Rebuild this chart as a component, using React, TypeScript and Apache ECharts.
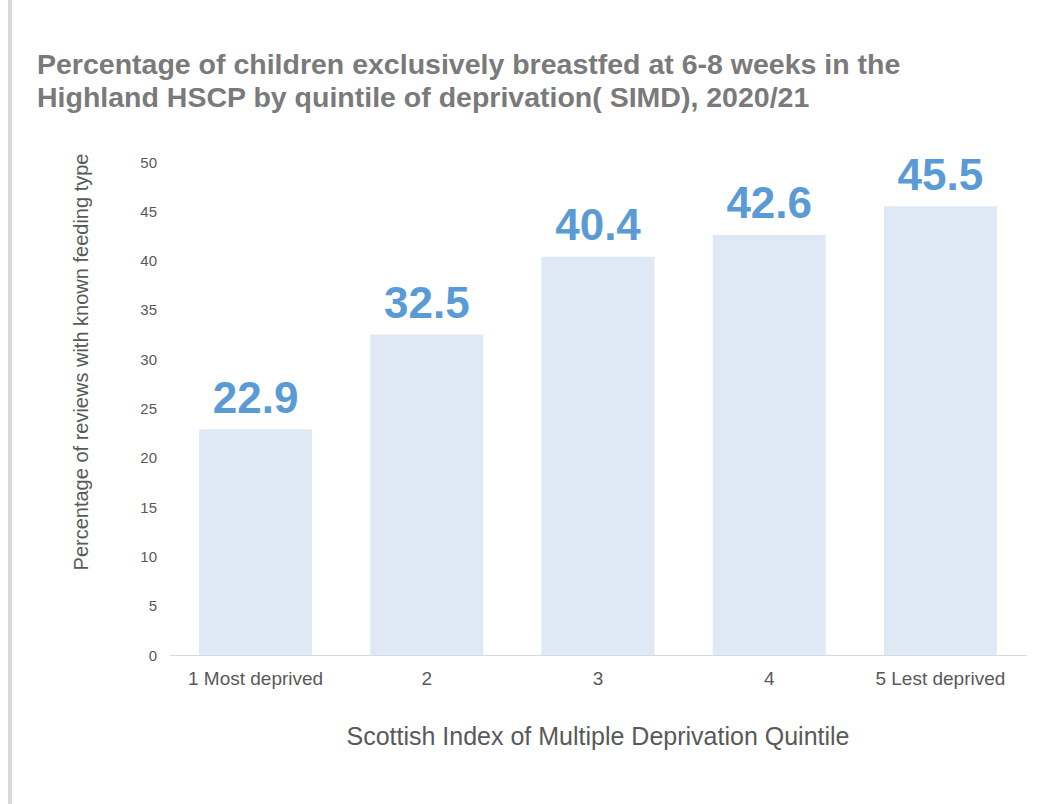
import React, { useEffect, useRef } from "react";
import * as echarts from "echarts";

const quintiles = ["1 Most deprived", "2", "3", "4", "5 Lest deprived"];
const breastfedPct = [22.9, 32.5, 40.4, 42.6, 45.5];
const yTicks = { min: 0, max: 50, interval: 5 };

const titleText =
  "Percentage of children exclusively breastfed at 6-8 weeks in the\nHighland HSCP by quintile of deprivation( SIMD), 2020/21";
const xAxisTitle = "Scottish Index of Multiple Deprivation Quintile";
const yAxisTitle = "Percentage of reviews with known feeding type";

const FONT = "Arial, 'Liberation Sans', Helvetica, sans-serif";

export default function App() {
  const ref = useRef<HTMLDivElement>(null);

  useEffect(() => {
    if (!ref.current) return;
    const chart = echarts.init(ref.current, null, { renderer: "svg" });
    chart.setOption({
      animation: false,
      backgroundColor: "#ffffff",
      textStyle: { fontFamily: FONT },
      title: {
        text: titleText,
        left: 32,
        top: 42,
        textStyle: {
          fontFamily: FONT,
          fontSize: 28.5,
          fontWeight: "bold",
          color: "#7a7a7a",
          lineHeight: 33,
        },
      },
      graphic: [
        {
          type: "rect",
          shape: { x: 8, y: 0, width: 4, height: 804 },
          style: { fill: "#d9d9d9" },
        },
        {
          type: "text",
          x: 81,
          y: 362,
          rotation: Math.PI / 2,
          style: {
            text: yAxisTitle,
            fontFamily: FONT,
            fontSize: 20,
            fill: "#595959",
            textAlign: "center",
            textVerticalAlign: "middle",
          },
        },
      ],
      grid: { left: 170, right: 20, top: 162, bottom: 149 },
      xAxis: {
        type: "category",
        data: quintiles,
        axisLine: { lineStyle: { color: "#d9d9d9", width: 1 } },
        axisTick: { show: false },
        axisLabel: {
          color: "#595959",
          fontSize: 19,
          margin: 14,
          interval: 0,
          fontFamily: FONT,
        },
        name: xAxisTitle,
        nameLocation: "middle",
        nameGap: 68,
        nameTextStyle: { color: "#595959", fontSize: 25, fontFamily: FONT },
      },
      yAxis: {
        type: "value",
        min: yTicks.min,
        max: yTicks.max,
        interval: yTicks.interval,
        axisLine: { show: false },
        axisTick: { show: false },
        splitLine: { show: false },
        axisLabel: { color: "#595959", fontSize: 15, margin: 13, fontFamily: FONT },
      },
      series: [
        {
          type: "bar",
          data: breastfedPct,
          barCategoryGap: "34%",
          itemStyle: { color: "#dee9f5" },
          label: {
            show: true,
            position: "top",
            distance: 10,
            fontSize: 44,
            fontWeight: "bold",
            color: "#5b9bd5",
            fontFamily: FONT,
          },
        },
      ],
    });
    return () => chart.dispose();
  }, []);

  return (
    <div
      ref={ref}
      style={{ position: "absolute", left: 0, top: 0, width: 1046, height: 804 }}
    />
  );
}
